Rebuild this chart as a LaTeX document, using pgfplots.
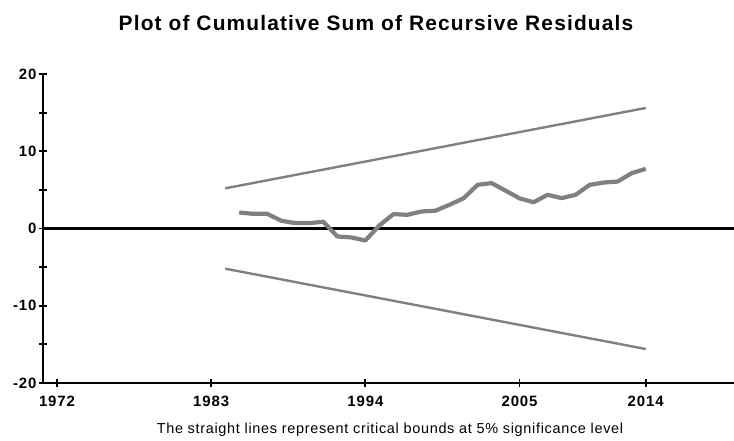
\documentclass[border=0pt]{standalone}
\usepackage{fontspec}
\setmainfont{Liberation Sans}
\usepackage{pgfplots}
\pgfplotsset{compat=1.18}
\definecolor{cgray}{HTML}{808080}
\begin{document}
\begin{tikzpicture}[x=1bp,y=1bp]
\useasboundingbox (-43,-58) rectangle (691,383);
\begin{axis}[
 at={(0,0)}, anchor=south west,
 scale only axis, width=691bp, height=309bp,
 xmin=1971, xmax=2020.3, ymin=-20, ymax=20,
 axis x line=bottom, axis y line=left,
 axis line style={-, line width=2.2bp, black},
 xtick={1972,1983,1994,2005,2014},
 ytick={-20,-10,0,10,20}, minor ytick={-15,-5,5,15},
 tick align=center, major tick length=8bp, minor tick length=8bp,
 every tick/.style={black, line width=1.8bp},
 tick label style={font=\bfseries\fontsize{15}{15}\selectfont\addfontfeature{LetterSpace=6}},
 /pgf/number format/assume math mode=true,
 xticklabel style={/pgf/number format/1000 sep={}, yshift=-6bp},
 yticklabel style={xshift=1bp},
 clip=false,
]
\addplot[black, line width=2.2bp] coordinates {(1971,0) (2020.3,0)};
\addplot[cgray, line width=2.4bp] coordinates {(1984,5.2) (2014,15.6)};
\addplot[cgray, line width=2.4bp] coordinates {(1984,-5.2) (2014,-15.6)};
\addplot[cgray, line width=4.2bp, line join=round] coordinates {
(1985,2.07) (1986,1.9) (1987,1.9) (1988,1.0) (1989,0.7) (1990,0.7) (1991,0.87)
(1992,-1.03) (1993,-1.16) (1994,-1.55) (1995,0.4) (1996,1.86) (1997,1.77)
(1998,2.2) (1999,2.3) (2000,3.07) (2001,3.9) (2002,5.65) (2003,5.87)
(2004,4.9) (2005,3.9) (2006,3.4) (2007,4.36) (2008,3.93) (2009,4.36)
(2010,5.65) (2011,5.95) (2012,6.08) (2013,7.16) (2014,7.72)};
\end{axis}
\node[font=\bfseries\fontsize{21}{21}\selectfont\addfontfeature{LetterSpace=5.5}] at (333,360) {Plot of Cumulative Sum of Recursive Residuals};
\node[font=\fontsize{14.5}{14.5}\selectfont\addfontfeature{LetterSpace=4.8}] at (347,-47) {The straight lines represent critical bounds at 5\% significance level};
\end{tikzpicture}
\end{document}
